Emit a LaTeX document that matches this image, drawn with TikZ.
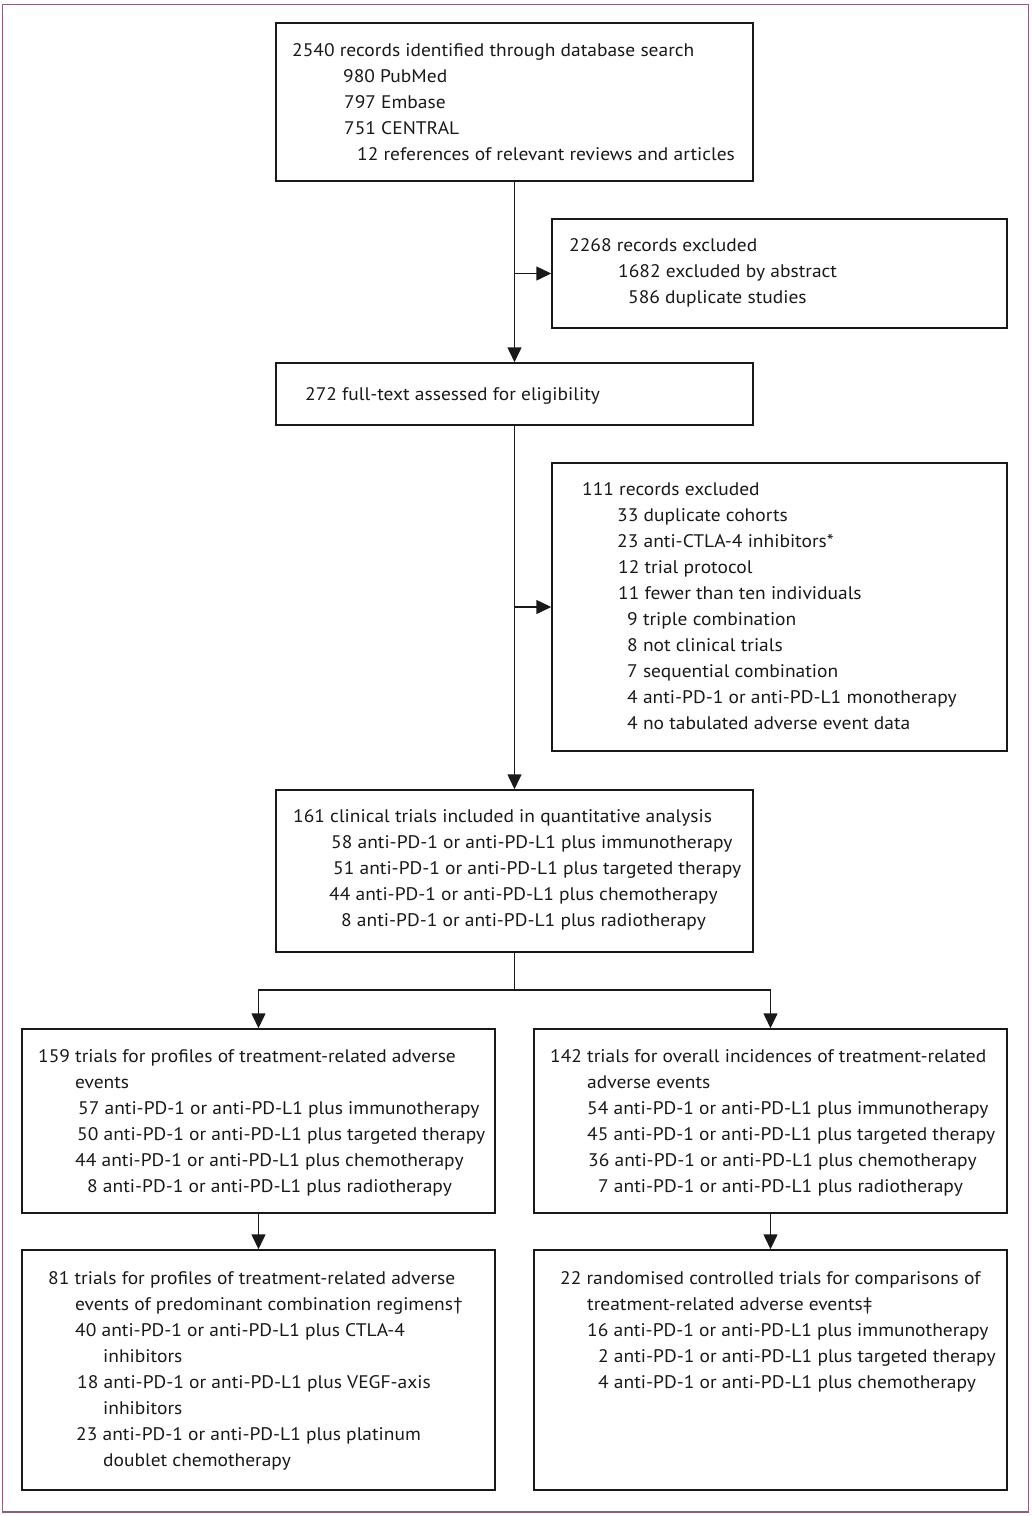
\documentclass[tikz,border=0pt]{standalone}
\usepackage{fontspec}
\setmainfont[FakeStretch=1.07]{PT Sans}
\usetikzlibrary{arrows.meta}
\definecolor{frame}{RGB}{140,95,125}
\definecolor{ink}{RGB}{25,25,25}
\begin{document}
\begin{tikzpicture}[x=1pt,y=-1pt,
  box/.style={draw=ink,line width=1.5pt,inner sep=0pt,rectangle},
  txt/.style={anchor=base west,inner sep=0pt,text=ink,font=\fontsize{18.2}{22}\selectfont},
  arr/.style={draw=ink,line width=1.5pt,-{Triangle[length=15pt,width=14pt]}},
  ln/.style={draw=ink,line width=1.5pt}]
\useasboundingbox (0,0) rectangle (1032,1516);
\draw[frame,line width=1.2pt] (2.5,4.5) rectangle (1028.5,1512);

% boxes
\node[box,minimum width=477pt,minimum height=158pt] (b1) at (514.5,102) {};
\node[box,minimum width=455pt,minimum height=109pt] (e1) at (779.5,273.5) {};
\node[box,minimum width=477pt,minimum height=62pt] (ft) at (514.5,394) {};
\node[box,minimum width=455pt,minimum height=288pt] (e2) at (779.5,607) {};
\node[box,minimum width=477pt,minimum height=162pt] (inc) at (514.5,871) {};
\node[box,minimum width=473pt,minimum height=184pt] (lm) at (258.5,1121) {};
\node[box,minimum width=473pt,minimum height=184pt] (rm) at (770.5,1121) {};
\node[box,minimum width=473pt,minimum height=240pt] (lb) at (258.5,1370) {};
\node[box,minimum width=473pt,minimum height=240pt] (rb) at (770.5,1370) {};

% connectors
\draw[arr] (b1.south) -- (ft.north);
\draw[arr] (b1.south |- e1.west) -- (e1.west);
\draw[arr] (ft.south) -- (inc.north);
\draw[arr] (ft.south |- e2.west) -- (e2.west);
\coordinate (split) at (514.5,990);
\draw[ln] (inc.south) -- (split);
\draw[arr] (split) -| (lm.north);
\draw[arr] (split) -| (rm.north);
\draw[arr] (lm.south) -- (lb.north);
\draw[arr] (rm.south) -- (rb.north);

% box 1
\node[txt] (t11) at (292,56) {2540 records identified through database search};
\node[txt] (t12) at (343,82) {980 PubMed};
\node[txt] (t13) at (344,108) {797 Embase};
\node[txt] (t14) at (344,134) {751 CENTRAL};
\node[txt] (t15) at (357,160) {12 references of relevant reviews and articles};
% excluded 1
\node[txt] (t21) at (569,251) {2268 records excluded};
\node[txt] (t22) at (618,277) {1682 excluded by abstract};
\node[txt] (t23) at (628,303) {586 duplicate studies};
% full text
\node[txt] (t31) at (305,400) {272 full-text assessed for eligibility};
% excluded 2
\node[txt] (t41) at (582,495) {111 records excluded};
\node[txt] (t42) at (617,521) {33 duplicate cohorts};
\node[txt] (t43) at (617,547) {23 anti-CTLA-4 inhibitors*};
\node[txt] (t44) at (618,573) {12 trial protocol};
\node[txt] (t45) at (618,599) {11 fewer than ten individuals};
\node[txt] (t46) at (627,625) {9 triple combination};
\node[txt] (t47) at (627,651) {8 not clinical trials};
\node[txt] (t48) at (627,677) {7 sequential combination};
\node[txt] (t49) at (627,703) {4 anti-PD-1 or anti-PD-L1 monotherapy};
\node[txt] (t410) at (627,729) {4 no tabulated adverse event data};
% included
\node[txt] (t51) at (293,822) {161 clinical trials included in quantitative analysis};
\node[txt] (t52) at (331,848) {58 anti-PD-1 or anti-PD-L1 plus immunotherapy};
\node[txt] (t53) at (333,874) {51 anti-PD-1 or anti-PD-L1 plus targeted therapy};
\node[txt] (t54) at (329,900) {44 anti-PD-1 or anti-PD-L1 plus chemotherapy};
\node[txt] (t55) at (341,926) {8 anti-PD-1 or anti-PD-L1 plus radiotherapy};
% left mid
\node[txt] (t61) at (38,1062) {159 trials for profiles of treatment-related adverse};
\node[txt] (t62) at (75,1088) {events};
\node[txt] (t63) at (78,1114) {57 anti-PD-1 or anti-PD-L1 plus immunotherapy};
\node[txt] (t64) at (77,1140) {50 anti-PD-1 or anti-PD-L1 plus targeted therapy};
\node[txt] (t65) at (75,1166) {44 anti-PD-1 or anti-PD-L1 plus chemotherapy};
\node[txt] (t66) at (87,1192) {8 anti-PD-1 or anti-PD-L1 plus radiotherapy};
% right mid
\node[txt] (t71) at (550,1062) {142 trials for overall incidences of treatment-related};
\node[txt] (t72) at (587,1088) {adverse events};
\node[txt] (t73) at (587,1114) {54 anti-PD-1 or anti-PD-L1 plus immunotherapy};
\node[txt] (t74) at (587,1140) {45 anti-PD-1 or anti-PD-L1 plus targeted therapy};
\node[txt] (t75) at (588,1166) {36 anti-PD-1 or anti-PD-L1 plus chemotherapy};
\node[txt] (t76) at (598,1192) {7 anti-PD-1 or anti-PD-L1 plus radiotherapy};
% left bottom
\node[txt] (t81) at (48,1284) {81 trials for profiles of treatment-related adverse};
\node[txt] (t82) at (75,1310) {events of predominant combination regimens†};
\node[txt] (t83) at (75,1336) {40 anti-PD-1 or anti-PD-L1 plus CTLA-4};
\node[txt] (t84) at (103,1362) {inhibitors};
\node[txt] (t85) at (77,1388) {18 anti-PD-1 or anti-PD-L1 plus VEGF-axis};
\node[txt] (t86) at (103,1414) {inhibitors};
\node[txt] (t87) at (76,1440) {23 anti-PD-1 or anti-PD-L1 plus platinum};
\node[txt] (t88) at (103,1466) {doublet chemotherapy};
% right bottom
\node[txt] (t91) at (560,1284) {22 randomised controlled trials for comparisons of};
\node[txt] (t92) at (587,1310) {treatment-related adverse events‡};
\node[txt] (t93) at (587,1336) {16 anti-PD-1 or anti-PD-L1 plus immunotherapy};
\node[txt] (t94) at (598,1362) {2 anti-PD-1 or anti-PD-L1 plus targeted therapy};
\node[txt] (t95) at (598,1388) {4 anti-PD-1 or anti-PD-L1 plus chemotherapy};
\end{tikzpicture}
\end{document}
